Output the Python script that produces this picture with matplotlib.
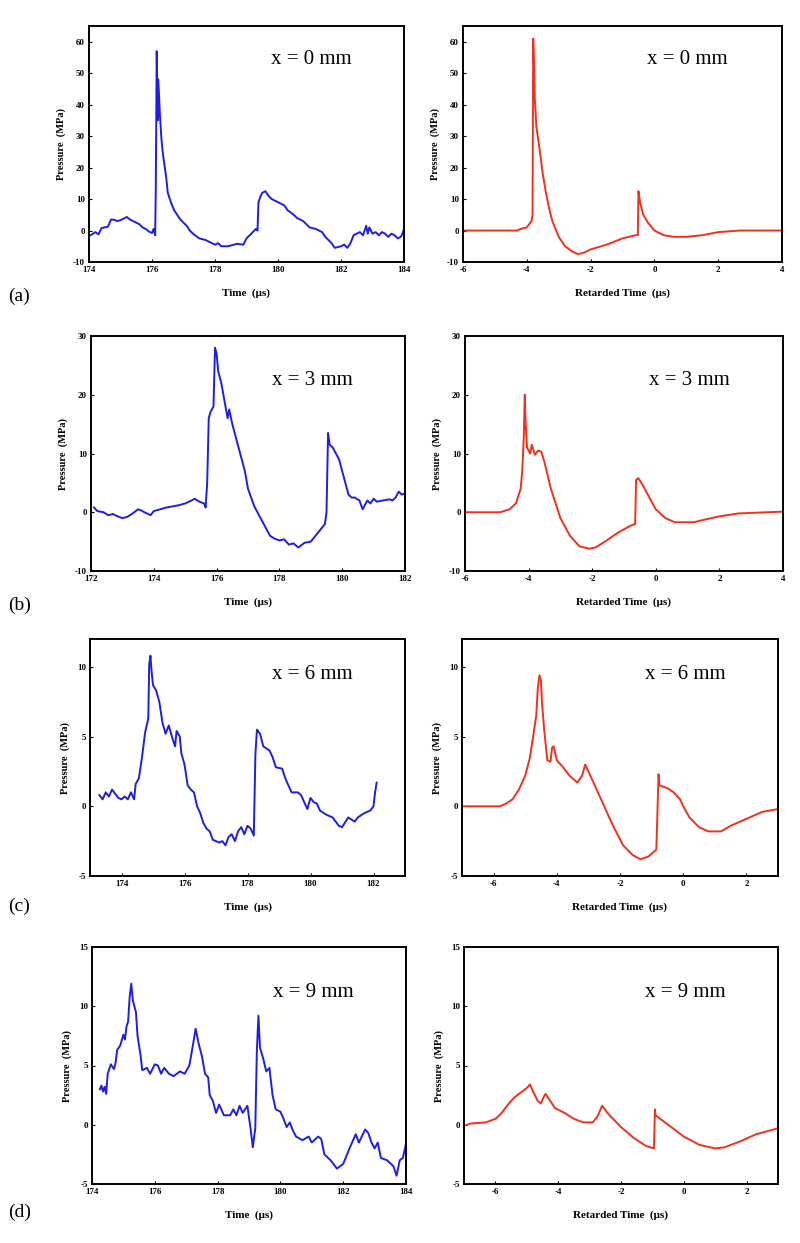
import matplotlib.pyplot as plt

plt.rcParams['font.family'] = ['Liberation Serif', 'DejaVu Serif']
plt.rcParams['axes.unicode_minus'] = False

#-- Data ----------------------------------------------------
# (a) x = 0 mm
t_a = [174.05, 174.2, 174.3, 174.4, 174.5, 174.6, 174.7, 174.8, 174.9, 175.0, 175.1, 175.2,
       175.3, 175.4, 175.5, 175.6, 175.7, 175.8, 175.9, 176.0, 176.05, 176.1, 176.12, 176.15,
       176.18, 176.2, 176.25, 176.3, 176.35, 176.45, 176.5, 176.6, 176.7, 176.8, 176.9, 177.0,
       177.1, 177.2, 177.3, 177.5, 177.7, 177.8, 178.0, 178.1, 178.2, 178.4, 178.6, 178.7,
       178.9, 179.0, 179.1, 179.2, 179.3, 179.35, 179.38, 179.45, 179.5, 179.6, 179.7, 179.8,
       180.0, 180.2, 180.3, 180.5, 180.6, 180.8, 181.0, 181.2, 181.4, 181.5, 181.7, 181.8,
       182.0, 182.1, 182.2, 182.3, 182.4, 182.5, 182.6, 182.7, 182.8, 182.85, 182.9, 183.0,
       183.1, 183.2, 183.3, 183.4, 183.5, 183.6, 183.7, 183.8, 183.9, 183.95, 184.0]
p_a = [-1.5, -0.5, -1.2, 0.8, 1.0, 1.2, 3.5, 3.4, 3.0, 3.3, 3.8, 4.3,
       3.5, 3.0, 2.5, 2.0, 1.0, 0.5, -0.3, -0.8, 0.5, -1.5, 13, 57,
       35, 48, 37, 29, 24, 17, 12, 9, 6.5, 5, 3.5, 2.5,
       1.5, 0, -1.0, -2.5, -3.0, -3.5, -4.5, -4.0, -5.0, -5.0, -4.5, -4.2,
       -4.5, -2.5, -1.5, -0.5, 0.5, 0.0, 9, 11, 12, 12.5, 11, 10,
       9, 8, 6.5, 5, 4, 3, 1, 0.5, -0.5, -2, -4, -5.5,
       -5, -4.5, -5.5, -4.0, -1.5, -1.0, -0.5, -1.5, 1.5, -1.0, 1.0, -1.0,
       -0.5, -1.5, -0.5, -1.0, -2.0, -1.0, -1.5, -2.5, -2.0, -1.0, 0.5]

r_a = [-6.0, -4.3, -4.2, -4.0, -3.85, -3.82, -3.8, -3.78, -3.75, -3.7, -3.6, -3.5, -3.4,
       -3.3, -3.2, -3.0, -2.8, -2.6, -2.4, -2.2, -2.0, -1.5, -1.0, -0.6, -0.52, -0.5,
       -0.45, -0.35, -0.2, 0.0, 0.3, 0.6, 1.0, 1.5, 2.0, 2.7, 4.0]
q_a = [0, 0, 0.5, 1, 3, 5, 61, 55, 42, 33, 26, 18, 12,
       7, 3, -2, -5, -6.5, -7.5, -7, -6, -4.5, -2.5, -1.5, -1.5, 12.5,
       9, 5, 2.5, 0, -1.5, -2, -2, -1.5, -0.5, 0, 0]

# (b) x = 3 mm
t_b = [172.1, 172.2, 172.4, 172.55, 172.7, 172.85, 173.0, 173.15, 173.3, 173.5, 173.6, 173.7,
       173.9, 174.0, 174.2, 174.4, 174.6, 174.8, 175.0, 175.2, 175.3, 175.45, 175.6, 175.65,
       175.7, 175.75, 175.8, 175.9, 175.95, 176.0, 176.05, 176.15, 176.25, 176.35, 176.4,
       176.5, 176.6, 176.7, 176.8, 176.9, 177.0, 177.2, 177.4, 177.55, 177.7, 177.85, 178.0,
       178.15, 178.3, 178.45, 178.6, 178.8, 179.0, 179.15, 179.3, 179.45, 179.5, 179.55, 179.6,
       179.7, 179.8, 179.9, 180.0, 180.1, 180.2, 180.3, 180.4, 180.55, 180.65, 180.8, 180.9,
       181.0, 181.1, 181.3, 181.5, 181.6, 181.7, 181.8, 181.9, 182.0]
p_b = [0.8, 0.2, 0.0, -0.5, -0.3, -0.7, -1.0, -0.8, -0.3, 0.5, 0.3, 0.0,
       -0.5, 0.2, 0.5, 0.8, 1.0, 1.2, 1.5, 2.0, 2.3, 1.8, 1.5, 0.8,
       5, 16, 17, 18, 28, 27, 24, 22, 19, 16, 17.5,
       15, 13, 11, 9, 7, 4, 1, -1, -2.5, -4, -4.5, -4.8,
       -4.6, -5.5, -5.3, -6.0, -5.2, -5.0, -4.0, -3.0, -2.0, 0.0, 13.5, 11.5,
       11, 10, 9, 7, 5, 3, 2.5, 2.5, 2.0, 0.5, 2.0, 1.5,
       2.3, 1.8, 2.0, 2.2, 2.0, 2.5, 3.5, 3.0, 3.2]

r_b = [-6.0, -4.9, -4.6, -4.4, -4.25, -4.2, -4.15, -4.12, -4.1, -4.05, -3.95, -3.9, -3.8,
       -3.7, -3.6, -3.5, -3.3, -3.0, -2.7, -2.4, -2.1, -1.9, -1.6, -1.2, -0.8, -0.65,
       -0.62, -0.55, -0.4, -0.2, 0.0, 0.3, 0.6, 1.2, 1.5, 2.0, 2.6, 3.5, 4.0]
q_b = [0, 0, 0.5, 1.5, 4, 7, 13, 20, 16, 11, 10, 11.5, 9.8,
       10.5, 10.3, 8.5, 4, -1, -4, -5.8, -6.2, -6, -5, -3.5, -2.3, -2,
       5.5, 5.8, 4.5, 2.5, 0.5, -1, -1.7, -1.7, -1.3, -0.7, -0.2, 0.0, 0.1]

# (c) x = 6 mm
t_c = [173.3, 173.4, 173.5, 173.6, 173.7, 173.8, 173.9, 174.0, 174.1, 174.2, 174.3, 174.4,
       174.45, 174.55, 174.65, 174.75, 174.85, 174.88, 174.92, 174.95, 175.0, 175.1, 175.2,
       175.3, 175.4, 175.5, 175.6, 175.7, 175.75, 175.85, 175.9, 176.0, 176.1, 176.2, 176.3,
       176.4, 176.5, 176.6, 176.7, 176.8, 176.9, 177.1, 177.2, 177.3, 177.4, 177.5, 177.6,
       177.7, 177.8, 177.9, 178.0, 178.1, 178.2, 178.25, 178.3, 178.4, 178.5, 178.7, 178.8,
       178.9, 179.1, 179.2, 179.3, 179.4, 179.6, 179.7, 179.8, 179.9, 180.0, 180.1, 180.2,
       180.3, 180.5, 180.7, 180.9, 181.0, 181.2, 181.4, 181.5, 181.7, 181.9, 182.0, 182.05, 182.1]
p_c = [0.8, 0.5, 1.0, 0.7, 1.2, 0.9, 0.6, 0.5, 0.7, 0.5, 1.0, 0.5,
       1.6, 2.0, 3.5, 5.3, 6.3, 10.2, 10.8, 9.8, 8.7, 8.3, 7.5,
       6.0, 5.2, 5.8, 5.0, 4.3, 5.4, 5.0, 3.8, 3.0, 1.5, 1.2, 1.0,
       0.0, -0.5, -1.2, -1.6, -1.8, -2.4, -2.6, -2.5, -2.8, -2.2, -2.0, -2.5,
       -1.8, -1.5, -2.0, -1.4, -1.6, -2.1, 3.7, 5.5, 5.2, 4.3, 4.0, 3.5,
       2.8, 2.7, 2.0, 1.5, 1.0, 1.0, 0.8, 0.3, -0.2, 0.6, 0.3, 0.2,
       -0.3, -0.6, -0.8, -1.4, -1.5, -0.8, -1.1, -0.8, -0.5, -0.3, 0.0, 1.0, 1.7]

r_c = [-7.0, -5.8, -5.6, -5.4, -5.2, -5.0, -4.85, -4.75, -4.65, -4.6, -4.55, -4.5, -4.47,
       -4.4, -4.3, -4.2, -4.15, -4.1, -4.0, -3.8, -3.6, -3.35, -3.2, -3.1, -3.0, -2.8,
       -2.5, -2.2, -1.9, -1.6, -1.35, -1.1, -0.85, -0.78, -0.75, -0.5, -0.3, -0.1, 0.0,
       0.2, 0.5, 0.8, 1.2, 1.5, 2.0, 2.5, 3.0]
q_c = [0, 0, 0.2, 0.5, 1.2, 2.2, 3.5, 5, 6.5, 8.5, 9.4, 9.0, 7.5,
       5.5, 3.3, 3.2, 4.2, 4.3, 3.3, 2.8, 2.2, 1.7, 2.2, 3.0, 2.5, 1.5,
       0, -1.5, -2.8, -3.5, -3.8, -3.6, -3.1, 2.3, 1.5, 1.3, 1.0, 0.5, 0.0,
       -0.8, -1.5, -1.8, -1.8, -1.4, -0.9, -0.4, -0.2]

# (d) x = 9 mm
t_d = [174.25, 174.3, 174.35, 174.4, 174.45, 174.5, 174.6, 174.7, 174.75, 174.8, 174.9,
       175.0, 175.05, 175.1, 175.15, 175.2, 175.25, 175.3, 175.4, 175.45, 175.55, 175.6,
       175.75, 175.85, 176.0, 176.1, 176.2, 176.3, 176.45, 176.6, 176.8, 176.95, 177.1,
       177.2, 177.3, 177.4, 177.5, 177.6, 177.7, 177.75, 177.85, 177.95, 178.05, 178.2,
       178.4, 178.5, 178.6, 178.7, 178.8, 178.95, 179.0, 179.05, 179.12, 179.2, 179.25,
       179.3, 179.35, 179.45, 179.55, 179.65, 179.75, 179.85, 180.0, 180.1, 180.2, 180.3,
       180.4, 180.5, 180.7, 180.9, 181.0, 181.2, 181.3, 181.4, 181.6, 181.8, 182.0, 182.2,
       182.4, 182.5, 182.7, 182.8, 182.9, 183.0, 183.1, 183.2, 183.4, 183.6, 183.7, 183.8,
       183.9, 184.0]
p_d = [3.0, 3.3, 2.8, 3.2, 2.6, 4.3, 5.1, 4.7, 5.2, 6.3, 6.7,
       7.6, 7.2, 8.3, 8.7, 10.8, 11.9, 10.5, 9.5, 7.5, 5.8, 4.6,
       4.8, 4.3, 5.1, 5.0, 4.3, 4.8, 4.3, 4.1, 4.5, 4.3, 5.0,
       6.5, 8.1, 6.8, 5.8, 4.3, 4.0, 2.5, 2.0, 1.0, 1.7, 0.8,
       0.8, 1.3, 0.8, 1.6, 1.0, 1.6, 0.6, -0.3, -1.9, -0.3, 6.2,
       9.2, 6.5, 5.6, 4.5, 4.8, 2.5, 1.3, 1.1, 0.5, -0.2, 0.2,
       -0.5, -1.0, -1.3, -1.0, -1.5, -1.0, -1.2, -2.5, -3.0, -3.7, -3.3, -2.0,
       -0.8, -1.5, -0.4, -0.7, -1.5, -2.0, -1.5, -2.8, -3.0, -3.5, -4.3, -3.0,
       -2.8, -1.6]

r_d = [-7.0, -6.8, -6.3, -6.0, -5.8, -5.6, -5.4, -5.2, -5.0, -4.9, -4.8, -4.65, -4.55,
       -4.45, -4.4, -4.3, -4.1, -3.8, -3.5, -3.2, -2.9, -2.75, -2.6, -2.4, -2.0, -1.6,
       -1.2, -0.95, -0.92, -0.9, -0.5, 0.0, 0.5, 1.0, 1.3, 1.8, 2.3, 3.0]
q_d = [-0.1, 0.1, 0.2, 0.5, 1.0, 1.7, 2.3, 2.7, 3.1, 3.4, 2.8, 2.0, 1.8,
       2.4, 2.6, 2.2, 1.4, 1.0, 0.5, 0.2, 0.2, 0.7, 1.6, 0.9, -0.2, -1.1,
       -1.8, -2.0, 1.3, 0.8, 0.0, -1.0, -1.7, -2.0, -1.9, -1.4, -0.8, -0.3]

panels = ['(a)', '(b)', '(c)', '(d)']
positions = ['x = 0 mm', 'x = 3 mm', 'x = 6 mm', 'x = 9 mm']

#-- Layout (pixels in an 800 x 1243 figure) ----------------
W, H = 800, 1243
left_boxes = [(89, 26, 404, 262), (91, 336, 405, 571), (90, 639, 405, 876), (92, 947, 406, 1184)]
right_boxes = [(463, 26, 782, 262), (465, 336, 783, 571), (462, 639, 778, 876), (464, 947, 778, 1184)]
label_y = [296, 605, 906, 1212]

blue_xlim = [(174, 184), (172, 182), (173, 183), (174, 184)]
red_xlim = [(-6, 4), (-6, 4), (-7, 3), (-7, 3)]
ylims = [(-10, 65), (-10, 30), (-5, 12), (-5, 15)]
yticks = [range(-10, 61, 10), range(-10, 31, 10), range(-5, 11, 5), range(-5, 16, 5)]
blue_xticks = [range(174, 185, 2), range(172, 183, 2), range(174, 183, 2), range(174, 185, 2)]
red_xticks = [range(-6, 5, 2), range(-6, 5, 2), range(-6, 3, 2), range(-6, 3, 2)]
text_y = [0.86, 0.81, 0.85, 0.81]

blue_t = [t_a, t_b, t_c, t_d]
blue_p = [p_a, p_b, p_c, p_d]
red_t = [r_a, r_b, r_c, r_d]
red_p = [q_a, q_b, q_c, q_d]

BLUE = '#1e1ee6'
RED = '#f2301c'

fig = plt.figure(figsize=(W / 100, H / 100), dpi=100)


def make_ax(box, t, p, color, xlim, ylim, xt, yt, xlabel, label, ty):
    x0, y0, x1, y1 = box
    ax = fig.add_axes([x0 / W, 1 - y1 / H, (x1 - x0) / W, (y1 - y0) / H])
    ax.plot(t, p, color=color, lw=1.4)
    ax.set_xlim(*xlim)
    ax.set_ylim(*ylim)
    ax.set_xticks(list(xt))
    ax.set_yticks(list(yt))
    for s in ax.spines.values():
        s.set_linewidth(1.4)
    ax.tick_params(direction='in', length=2.5, width=0.8, labelsize=6.5, pad=3)
    for lab in ax.get_xticklabels() + ax.get_yticklabels():
        lab.set_fontweight('bold')
    ax.set_xlabel(xlabel, fontsize=8, fontweight='bold', labelpad=10)
    ax.set_ylabel('Pressure  (MPa)', fontsize=7.5, fontweight='bold', labelpad=5)
    ax.text(0.578, ty, label, transform=ax.transAxes, fontsize=15,
            va='center', ha='left')
    return ax


for i in range(4):
    make_ax(left_boxes[i], blue_t[i], blue_p[i], BLUE, blue_xlim[i], ylims[i],
            blue_xticks[i], yticks[i], 'Time  (\u03bcs)', positions[i], text_y[i])
    make_ax(right_boxes[i], red_t[i], red_p[i], RED, red_xlim[i], ylims[i],
            red_xticks[i], yticks[i], 'Retarded Time  (\u03bcs)', positions[i], text_y[i])
    fig.text(8 / W, 1 - label_y[i] / H, panels[i], fontsize=14, va='center', ha='left')

fig.savefig('out.png', dpi=100)
